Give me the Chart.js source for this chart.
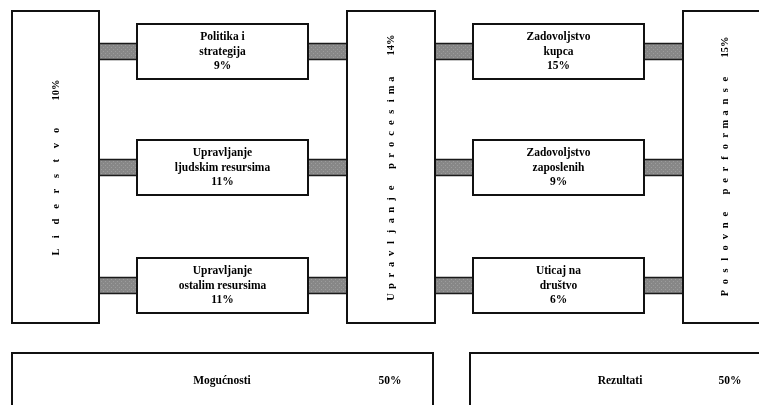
<!DOCTYPE html>
<html>
<head>
<meta charset="utf-8">
<script src="https://cdn.jsdelivr.net/npm/chart.js@4.4.1/dist/chart.umd.min.js"></script>
<style>
  html, body { margin: 0; padding: 0; background: #ffffff; }
  #wrap { width: 759px; height: 405px; overflow: hidden; }
</style>
</head>
<body>
<div id="wrap"><canvas id="c" width="759" height="405"></canvas></div>
<script>
// ---------- DATA ----------
const pillarLabels = ['Liderstvo', 'Upravljanje procesima', 'Poslovne performanse'];
const pillarWeights = [10, 14, 15];
const enablerLabels = [['Politika i', 'strategija'], ['Upravljanje', 'ljudskim resursima'], ['Upravljanje', 'ostalim resursima']];
const enablerWeights = [9, 11, 11];
const resultLabels = [['Zadovoljstvo', 'kupca'], ['Zadovoljstvo', 'zaposlenih'], ['Uticaj na', 'društvo']];
const resultWeights = [15, 9, 6];
const groupLabels = ['Mogućnosti', 'Rezultati'];
const groupWeights = [50, 50];

// ---------- LAYOUT (in axis units) ----------
const pillarCols = [[12, 99], [347, 435], [683, 772]];
const pillarRows = [11, 323];
const pillarText = [ // x center, bottom char center, step, pct center
  { x: 56, y0: 252, step: 15.2, pct: 90 },
  { x: 391, y0: 297, step: 10.9, pct: 45 },
  { x: 725, y0: 293, step: 11.26, pct: 47 }
];
const smallCols = [[137, 308], [473, 644]];
const smallRows = [[24, 79], [140, 195], [258, 313]];
const connCols = [[99, 137], [308, 347], [435, 473], [644, 683]];
const connHalf = 8;
const groupBoxes = [[12, 433], [470, 775]];
const groupTop = 353, groupBottom = 420;
const groupText = [{ lx: 222, px: 390 }, { lx: 620, px: 730 }];
const groupTextY = 381;

const serif = '"Liberation Serif", "Times New Roman", serif';

const diagramPlugin = {
  id: 'efqm',
  afterDraw(chart) {
    const ctx = chart.ctx;
    const X = v => chart.scales.x.getPixelForValue(v);
    const Y = v => chart.scales.y.getPixelForValue(v);
    ctx.save();

    function box(x0, x1, y0, y1, fill, stroke, lw) {
      const px0 = X(x0), px1 = X(x1), py0 = Y(y0), py1 = Y(y1);
      ctx.fillStyle = fill;
      ctx.fillRect(px0, py0, px1 - px0, py1 - py0);
      ctx.strokeStyle = stroke;
      ctx.lineWidth = lw;
      ctx.strokeRect(px0, py0, px1 - px0, py1 - py0);
    }

    // connectors
    const pc = document.createElement('canvas');
    pc.width = 4; pc.height = 4;
    const pctx = pc.getContext('2d');
    pctx.fillStyle = '#878787'; pctx.fillRect(0, 0, 4, 4);
    pctx.fillStyle = '#9c9c9c'; pctx.fillRect(1, 1, 1, 1); pctx.fillRect(3, 3, 1, 1);
    const pattern = ctx.createPattern(pc, 'repeat');
    smallRows.forEach(r => {
      const cy = (r[0] + r[1]) / 2;
      connCols.forEach(c => box(c[0], c[1], cy - connHalf, cy + connHalf, pattern, '#1a1a1a', 1.5));
    });

    // pillars
    pillarCols.forEach(c => box(c[0], c[1], pillarRows[0], pillarRows[1], '#fff', '#111', 2));
    // small boxes
    smallCols.forEach(c => smallRows.forEach(r => box(c[0], c[1], r[0], r[1], '#fff', '#111', 2)));
    // group boxes
    groupBoxes.forEach(b => box(b[0], b[1], groupTop, groupBottom, '#fff', '#111', 2));

    ctx.fillStyle = '#000';
    ctx.textAlign = 'center';
    ctx.textBaseline = 'middle';

    function tallText(t, x, y, size) {
      ctx.save();
      ctx.translate(x, y);
      ctx.scale(1, 1.1);
      ctx.font = 'bold ' + size + 'px ' + serif;
      ctx.fillText(t, 0, 0);
      ctx.restore();
    }

    // small box text
    function boxText(col, row, lines, pct) {
      const cx = X((col[0] + col[1]) / 2);
      const cy = (row[0] + row[1]) / 2;
      const all = lines.concat([pct + '%']);
      const lh = 14.5;
      all.forEach((t, i) => {
        tallText(t, cx, Y(cy + (i - (all.length - 1) / 2) * lh), 11.5);
      });
    }
    enablerLabels.forEach((l, i) => boxText(smallCols[0], smallRows[i], l, enablerWeights[i]));
    resultLabels.forEach((l, i) => boxText(smallCols[1], smallRows[i], l, resultWeights[i]));

    // rotated pillar text
    ctx.font = 'bold 10.5px ' + serif;
    pillarLabels.forEach((label, i) => {
      const t = pillarText[i];
      const chars = label.split('');
      chars.forEach((ch, k) => {
        if (ch === ' ') return;
        ctx.save();
        ctx.translate(X(t.x), Y(t.y0 - k * t.step));
        ctx.rotate(-Math.PI / 2);
        ctx.fillText(ch, 0, 0);
        ctx.restore();
      });
      ctx.save();
      ctx.translate(X(t.x), Y(t.pct));
      ctx.rotate(-Math.PI / 2);
      ctx.fillText(pillarWeights[i] + '%', 0, 0);
      ctx.restore();
    });

    // group text
    groupLabels.forEach((g, i) => {
      tallText(g, X(groupText[i].lx), Y(groupTextY), 11.5);
      tallText(groupWeights[i] + '%', X(groupText[i].px), Y(groupTextY), 11.5);
    });

    ctx.restore();
  }
};

new Chart(document.getElementById('c'), {
  type: 'scatter',
  data: { datasets: [{ data: [], pointRadius: 0 }] },
  options: {
    responsive: false,
    animation: false,
    devicePixelRatio: 1,
    layout: { padding: 0 },
    plugins: { legend: { display: false }, tooltip: { enabled: false } },
    scales: {
      x: { type: 'linear', min: 0, max: 759, display: false },
      y: { type: 'linear', min: 0, max: 405, reverse: true, display: false }
    }
  },
  plugins: [diagramPlugin]
});
</script>
</body>
</html>
